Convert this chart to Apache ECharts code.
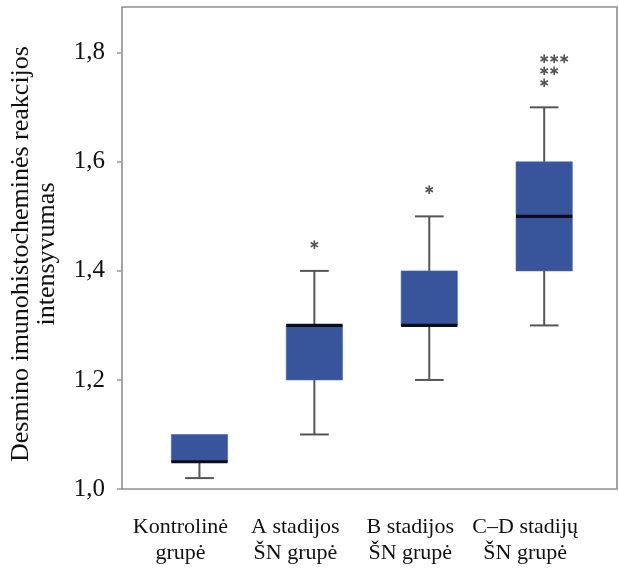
<!DOCTYPE html>
<html>
<head>
<meta charset="utf-8">
<script src="https://cdn.jsdelivr.net/npm/echarts@6/dist/echarts.min.js"></script>
<style>html,body{margin:0;padding:0;background:#fff;}#c{width:619px;height:573px;}</style>
</head>
<body>
<div id="c"></div>
<script>
// ---- data ----
const categories = ['Kontrolinė\ngrupė', 'A stadijos\nŠN grupė', 'B stadijos\nŠN grupė', 'C–D stadijų\nŠN grupė'];
const whiskerLow  = [1.02, 1.10, 1.20, 1.30];
const quartile1   = [1.05, 1.20, 1.30, 1.40];
const medianVals  = [1.05, 1.30, 1.30, 1.50];
const quartile3   = [1.10, 1.30, 1.40, 1.60];
const whiskerHigh = [1.10, 1.40, 1.50, 1.70];
const outlierGroup = [1, 2, 3, 3, 3, 3, 3, 3];
const outlierValue = [1.448, 1.549, 1.789, 1.789, 1.789, 1.767, 1.767, 1.745];
const yMin = 1.0, yMax = 1.884, yStep = 0.2;
const yTitle = 'Desmino imunohistocheminės reakcijos\nintensyvumas';

// ---- build ----
const boxData = categories.map((c, i) => [i, whiskerLow[i], quartile1[i], medianVals[i], quartile3[i], whiskerHigh[i]]);
const seen = {};
const outData = outlierGroup.map((g, i) => {
  const key = g + '_' + outlierValue[i];
  const k = seen[key] || 0;
  seen[key] = k + 1;
  return [g, outlierValue[i], k];
});

const FONT = '"Liberation Serif", "Times New Roman", serif';
const chart = echarts.init(document.getElementById('c'), null, {renderer: 'canvas'});

function renderBox(params, api) {
  const i = api.value(0);
  const lo = api.coord([i, api.value(1)]);
  const q1 = api.coord([i, api.value(2)]);
  const md = api.coord([i, api.value(3)]);
  const q3 = api.coord([i, api.value(4)]);
  const hi = api.coord([i, api.value(5)]);
  const band = api.size([1, 0])[0];
  const bw = band * 0.49, cw = band * 0.25;
  const x = lo[0];
  const wStyle = {stroke: '#555', lineWidth: 2};
  const children = [];
  if (lo[1] - q1[1] > 0.5) {
    children.push({type: 'line', shape: {x1: x, y1: q1[1], x2: x, y2: lo[1]}, style: wStyle});
    children.push({type: 'line', shape: {x1: x - cw / 2, y1: lo[1], x2: x + cw / 2, y2: lo[1]}, style: wStyle});
  }
  if (q3[1] - hi[1] > 0.5) {
    children.push({type: 'line', shape: {x1: x, y1: q3[1], x2: x, y2: hi[1]}, style: wStyle});
    children.push({type: 'line', shape: {x1: x - cw / 2, y1: hi[1], x2: x + cw / 2, y2: hi[1]}, style: wStyle});
  }
  children.push({type: 'rect', shape: {x: x - bw / 2, y: q3[1], width: bw, height: q1[1] - q3[1]},
    style: {fill: '#38559c', stroke: '#4a66ab', lineWidth: 0.6}});
  children.push({type: 'line', shape: {x1: x - bw / 2, y1: md[1], x2: x + bw / 2, y2: md[1]},
    style: {stroke: '#0b0d1c', lineWidth: 3.2}});
  return {type: 'group', children: children};
}

function renderStar(params, api) {
  const p = api.coord([api.value(0), api.value(1)]);
  const k = api.value(2);
  const cx = p[0] + k * 10, cy = p[1];
  const r = 4.3;
  const st = {stroke: '#555', lineWidth: 1.7};
  const ch = [];
  for (let a = 0; a < 3; a++) {
    const ang = Math.PI / 2 + a * Math.PI / 3;
    ch.push({type: 'line', shape: {x1: cx - r * Math.cos(ang), y1: cy - r * Math.sin(ang), x2: cx + r * Math.cos(ang), y2: cy + r * Math.sin(ang)}, style: st});
  }
  return {type: 'group', children: ch};
}

const option = {
  backgroundColor: '#fff',
  animation: false,
  grid: [
    {left: 119, right: 2, top: 7, bottom: 84, show: true, borderColor: '#8f8f8f', borderWidth: 1.6, backgroundColor: 'transparent'},
    {left: 142, right: 17, top: 7, bottom: 84}
  ],
  xAxis: [
    {gridIndex: 0, type: 'category', data: categories, show: false},
    {gridIndex: 1, type: 'category', data: categories,
      axisLine: {show: false}, axisTick: {show: false},
      axisLabel: {fontFamily: FONT, fontSize: 22, color: '#111', lineHeight: 26, margin: 25, interval: 0, padding: [0, 38, 0, 0]}}
  ],
  yAxis: [
    {gridIndex: 0, type: 'value', min: yMin, max: yMax, interval: yStep,
      axisLine: {show: false},
      axisTick: {show: true, length: 5, lineStyle: {color: '#999', width: 1.5}},
      splitLine: {show: false},
      axisLabel: {fontFamily: FONT, fontSize: 25, color: '#111', margin: 17,
        formatter: v => (Math.round(v * 10) / 10).toFixed(1).replace('.', ','),
        showMaxLabel: false},
      name: yTitle, nameLocation: 'middle', nameRotate: 90, nameGap: 62,
      nameTextStyle: {fontFamily: FONT, fontSize: 26, color: '#111', lineHeight: 26, padding: [0, 12, 0, 0]}},
    {gridIndex: 1, type: 'value', min: yMin, max: yMax, show: false, splitLine: {show: false}}
  ],
  series: [
    {type: 'custom', xAxisIndex: 1, yAxisIndex: 1, data: boxData, renderItem: renderBox, encode: {x: 0, y: [1, 2, 3, 4, 5]}},
    {type: 'custom', xAxisIndex: 1, yAxisIndex: 1, data: outData, renderItem: renderStar, encode: {x: 0, y: 1}}
  ]
};
chart.setOption(option);
</script>
</body>
</html>
